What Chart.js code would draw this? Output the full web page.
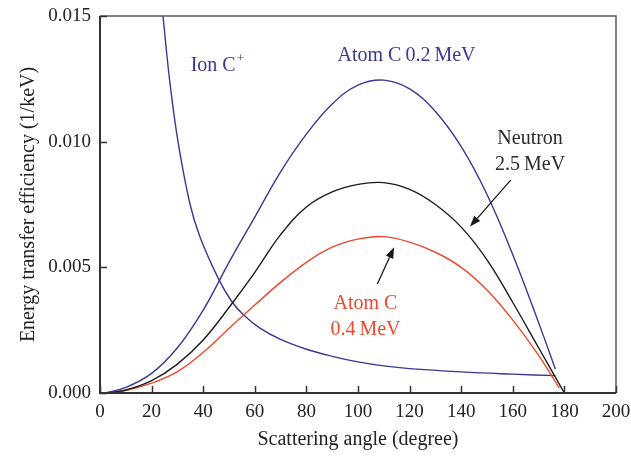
<!DOCTYPE html>
<html>
<head>
<meta charset="utf-8">
<script src="https://cdn.jsdelivr.net/npm/chart.js@4.4.1/dist/chart.umd.min.js"></script>
<style>
html, body { margin: 0; padding: 0; background: #fff; }
</style>
</head>
<body>
<canvas id="chart" width="631" height="457"></canvas>
<script>
// tick values
var xTicks = [0, 20, 40, 60, 80, 100, 120, 140, 160, 180, 200];
var yTicks = [0, 0.005, 0.010, 0.015];

// Atom C 0.2 MeV
var atom02Angle = [2, 10, 20, 30, 40, 50, 60, 70, 80, 90, 100, 110, 120, 130, 140, 150, 160, 170, 176.5];
var atom02Eff = [0, 0.00022, 0.00078, 0.0018, 0.0033, 0.0052, 0.0070, 0.0088, 0.0103, 0.0115, 0.01225, 0.01245, 0.0121, 0.0112, 0.0098, 0.0079, 0.0055, 0.0028, 0.00095];

// Neutron 2.5 MeV
var neutronAngle = [2, 10, 20, 30, 40, 50, 60, 70, 80, 90, 100, 110, 120, 130, 140, 150, 160, 170, 180];
var neutronEff = [0, 0.00012, 0.00049, 0.00115, 0.00211, 0.0034, 0.0048, 0.0063, 0.0074, 0.0080, 0.0083, 0.00837, 0.0081, 0.0075, 0.0066, 0.0053, 0.0036, 0.0018, 0];

// Atom C 0.4 MeV
var atom04Angle = [2, 10, 20, 30, 40, 50, 60, 70, 80, 90, 100, 110, 120, 130, 140, 150, 160, 170, 178];
var atom04Eff = [0, 0.0001, 0.00039, 0.00085, 0.00162, 0.00257, 0.0035, 0.0044, 0.0052, 0.0058, 0.00612, 0.00622, 0.0060, 0.0056, 0.0050, 0.0041, 0.0029, 0.0015, 0.0002];

// Ion C+
var ionAngle = [24.4, 27.1, 30.3, 34.9, 38.8, 45.9, 51, 55.7, 62, 70, 80, 90, 100, 110, 120, 140, 160, 176.5];
var ionEff = [0.0150, 0.01235, 0.00996, 0.00751, 0.0062, 0.00455, 0.00365, 0.0031, 0.00258, 0.00213, 0.00174, 0.00146, 0.00124, 0.00108, 0.00097, 0.00084, 0.00075, 0.00069];

var BLUE = '#3b3796';
var RED = '#f0472d';
var BLACK = '#1c1c1c';
var FONT = '"Liberation Serif", "Times New Roman", serif';

function pts(xs, ys) {
	return xs.map(function (x, i) { return { x: x, y: ys[i] }; });
}

function line(label, xs, ys, color) {
	return {
		label: label,
		data: pts(xs, ys),
		borderColor: color,
		borderWidth: 1.4,
		pointRadius: 0,
		fill: false,
		tension: 0.4
	};
}

// text labels and arrows, placed in data coordinates
var notes = [
	{ text: 'Ion C', sup: '+', x: 45.3, y: 0.01301, color: BLUE },
	{ text: 'Atom C\u20090.2\u2009MeV', x: 118.8, y: 0.01340, color: BLUE },
	{ text: 'Neutron', x: 166.7, y: 0.01013, color: '#2a2a2a' },
	{ text: '2.5\u2009MeV', x: 166.7, y: 0.00907, color: '#2a2a2a' },
	{ text: 'Atom C', x: 102.9, y: 0.00355, color: RED },
	{ text: '0.4\u2009MeV', x: 102.9, y: 0.00250, color: RED }
];
var arrows = [
	{ x0: 159.2, y0: 0.00847, x1: 143.4, y1: 0.00662 },
	{ x0: 107.5, y0: 0.00434, x1: 114.0, y1: 0.00580 }
];

var decor = {
	id: 'decor',
	afterDraw: function (chart) {
		var ctx = chart.ctx;
		var a = chart.chartArea;
		var xs = chart.scales.x, ys = chart.scales.y;
		ctx.save();

		// frame: light top/right, heavy left/bottom
		ctx.strokeStyle = '#5a5a5a';
		ctx.lineWidth = 1.5;
		ctx.beginPath();
		ctx.moveTo(a.left, a.top);
		ctx.lineTo(a.right, a.top);
		ctx.lineTo(a.right, a.bottom);
		ctx.stroke();
		ctx.strokeStyle = '#333';
		ctx.lineWidth = 2;
		ctx.beginPath();
		ctx.moveTo(a.left, a.top);
		ctx.lineTo(a.left, a.bottom);
		ctx.lineTo(a.right, a.bottom);
		ctx.stroke();

		// inward tick marks
		ctx.lineWidth = 1.5;
		xTicks.forEach(function (v) {
			var px = Math.round(xs.getPixelForValue(v)) + 0.5;
			ctx.beginPath();
			ctx.moveTo(px, a.bottom);
			ctx.lineTo(px, a.bottom - 7);
			ctx.stroke();
		});
		yTicks.forEach(function (v) {
			var py = Math.round(ys.getPixelForValue(v)) + 0.5;
			ctx.beginPath();
			ctx.moveTo(a.left, py);
			ctx.lineTo(a.left + 7, py);
			ctx.stroke();
		});

		// labels
		ctx.textBaseline = 'middle';
		notes.forEach(function (n) {
			var px = xs.getPixelForValue(n.x), py = ys.getPixelForValue(n.y);
			ctx.fillStyle = n.color;
			ctx.font = '20px ' + FONT;
			var w = ctx.measureText(n.text).width;
			var sw = 0;
			if (n.sup) {
				ctx.font = '13px ' + FONT;
				sw = ctx.measureText(n.sup).width;
				ctx.font = '20px ' + FONT;
			}
			var left = px - (w + sw) / 2;
			ctx.textAlign = 'left';
			ctx.fillText(n.text, left, py);
			if (n.sup) {
				ctx.font = '13px ' + FONT;
				ctx.fillText(n.sup, left + w + 1, py - 7);
			}
		});

		// arrows
		ctx.strokeStyle = '#1a1a1a';
		ctx.fillStyle = '#1a1a1a';
		ctx.lineWidth = 1.3;
		arrows.forEach(function (r) {
			var x0 = xs.getPixelForValue(r.x0), y0 = ys.getPixelForValue(r.y0);
			var x1 = xs.getPixelForValue(r.x1), y1 = ys.getPixelForValue(r.y1);
			var ang = Math.atan2(y1 - y0, x1 - x0);
			var hl = 11, hw = 4;
			var bx = x1 - hl * Math.cos(ang), by = y1 - hl * Math.sin(ang);
			ctx.beginPath();
			ctx.moveTo(x0, y0);
			ctx.lineTo(bx, by);
			ctx.stroke();
			ctx.beginPath();
			ctx.moveTo(x1, y1);
			ctx.lineTo(bx + hw * Math.sin(ang), by - hw * Math.cos(ang));
			ctx.lineTo(bx - hw * Math.sin(ang), by + hw * Math.cos(ang));
			ctx.closePath();
			ctx.fill();
		});
		ctx.restore();
	}
};

new Chart(document.getElementById('chart').getContext('2d'), {
	type: 'line',
	data: {
		datasets: [
			line('Atom C 0.2 MeV', atom02Angle, atom02Eff, BLUE),
			line('Neutron 2.5 MeV', neutronAngle, neutronEff, BLACK),
			line('Atom C 0.4 MeV', atom04Angle, atom04Eff, RED),
			line('Ion C+', ionAngle, ionEff, BLUE)
		]
	},
	options: {
		responsive: false,
		animation: false,
		layout: { padding: { top: 16, right: 15, left: 0, bottom: 0 } },
		plugins: { legend: { display: false }, tooltip: { enabled: false } },
		scales: {
			x: {
				type: 'linear',
				min: 0, max: 200,
				afterFit: function (s) {
					s.height = 64;
					s.paddingLeft = 0;
					s.paddingRight = 0;
				},
				afterBuildTicks: function (s) { s.ticks = xTicks.map(function (v) { return { value: v }; }); },
				grid: { display: false, drawTicks: false },
				border: { display: false },
				ticks: { padding: 8, color: '#222', font: { family: FONT, size: 19 }, maxRotation: 0 },
				title: { display: true, text: 'Scattering angle (degree)', color: '#222', font: { family: FONT, size: 20 }, padding: { top: 0, bottom: 5 } }
			},
			y: {
				min: 0, max: 0.015,
				afterFit: function (s) {
					s.width = 100;
					s.paddingTop = 0;
					s.paddingBottom = 0;
				},
				afterBuildTicks: function (s) { s.ticks = yTicks.map(function (v) { return { value: v }; }); },
				grid: { display: false, drawTicks: false },
				border: { display: false },
				ticks: { padding: 9, color: '#222', font: { family: FONT, size: 19 }, callback: function (v) { return v.toFixed(3); } },
				title: { display: true, text: 'Energy transfer efficiency (1/keV)', color: '#222', font: { family: FONT, size: 20 }, padding: { top: 17, bottom: 0 } }
			}
		}
	},
	plugins: [decor]
});
</script>
</body>
</html>
